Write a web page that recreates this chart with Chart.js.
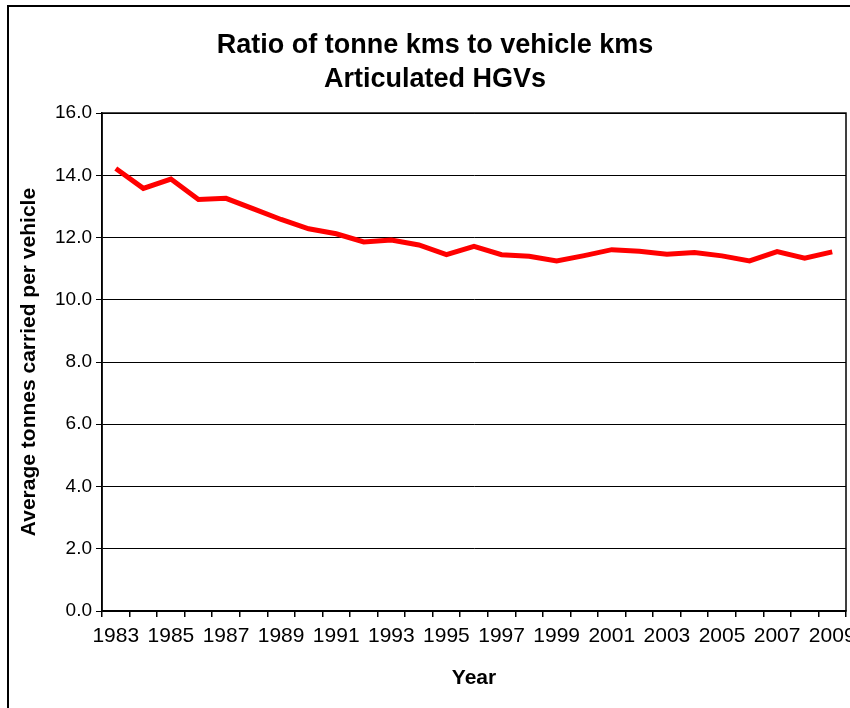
<!DOCTYPE html>
<html>
<head>
<meta charset="utf-8">
<script src="https://cdn.jsdelivr.net/npm/chart.js@4"></script>
<style>
body { margin: 0; background: #fff; }
canvas { display: block; }
</style>
</head>
<body>
<canvas id="hgv" width="850" height="708"></canvas>
<script>
var years = ['1983','1984','1985','1986','1987','1988','1989','1990','1991','1992','1993','1994','1995','1996',
             '1997','1998','1999','2000','2001','2002','2003','2004','2005','2006','2007','2008','2009'];
var tonnesPerVehicle = [14.22, 13.58, 13.88, 13.22, 13.26, 12.92, 12.58, 12.28, 12.12, 11.86, 11.92, 11.76, 11.45, 11.72,
                        11.45, 11.40, 11.25, 11.42, 11.61, 11.56, 11.46, 11.52, 11.41, 11.25, 11.55, 11.34, 11.54];
var titleLines = ['Ratio of tonne kms to vehicle kms', 'Articulated HGVs'];
var yTitle = 'Average tonnes carried per vehicle';
var xTitle = 'Year';

var canvas = document.getElementById('hgv');
var ctx = canvas.getContext('2d');

// outer frame + box round the plot
var frames = {
    id: 'frames',
    beforeDraw: function(chart){
        var c = chart.ctx;
        c.save();
        c.fillStyle = '#fff';
        c.fillRect(0, 0, chart.width, chart.height);
        c.strokeStyle = '#000';
        c.lineWidth = 2;
        c.strokeRect(8, 6, 900, 800);
        c.restore();
    },
    afterDatasetsDraw: function(chart){
        var a = chart.chartArea;
        var c = chart.ctx;
        c.save();
        c.strokeStyle = '#000';
        c.lineWidth = 1.5;
        c.strokeRect(a.left, a.top, a.right - a.left, a.bottom - a.top);
        c.restore();
    }
};

var hgvChart = new Chart(ctx, {
    type: 'line',
    data: {
        labels: years,
        datasets: [{
            data: tonnesPerVehicle,
            borderColor: '#ff0000',
            borderWidth: 5,
            pointRadius: 0,
            tension: 0,
            fill: false
        }]
    },
    options: {
        responsive: false,
        animation: false,
        devicePixelRatio: 1,
        // left padding pushes the title centre right, y axis box is narrowed to match
        layout: { padding: { left: 24, right: 4, top: 0, bottom: 0 } },
        plugins: {
            legend: { display: false },
            tooltip: { enabled: false },
            title: {
                display: true,
                text: titleLines,
                color: '#000',
                font: { family: 'Liberation Sans', size: 27, weight: 'bold', lineHeight: 1.26 },
                padding: { top: 29, bottom: 16 }
            }
        },
        scales: {
            x: {
                offset: true,
                grid: { offset: true, drawOnChartArea: false, drawTicks: true, tickLength: 6, color: '#000', lineWidth: 1.5 },
                border: { display: true, color: '#000', width: 1.5 },
                ticks: {
                    autoSkip: false,
                    maxRotation: 0,
                    color: '#000',
                    padding: 7,
                    font: { family: 'Liberation Sans', size: 21 },
                    callback: function(v, i){ return i % 2 === 0 ? years[i] : ''; }
                },
                title: {
                    display: true,
                    text: xTitle,
                    color: '#000',
                    font: { family: 'Liberation Sans', size: 21, weight: 'bold' },
                    padding: { top: 0, bottom: 17 }
                },
                afterFit: function(s){
                    s.height = 97;
                    s.paddingLeft = 0;
                    s.paddingRight = 0;
                }
            },
            y: {
                min: 0,
                max: 16,
                grid: { color: '#000', lineWidth: 1, drawTicks: true, tickLength: 6 },
                border: { display: true, color: '#000', width: 1.5 },
                ticks: {
                    stepSize: 2,
                    color: '#000',
                    padding: 4,
                    font: { family: 'Liberation Sans', size: 19 },
                    callback: function(v){ return v.toFixed(1); }
                },
                title: {
                    display: true,
                    text: yTitle,
                    color: '#000',
                    font: { family: 'Liberation Sans', size: 21, weight: 'bold' },
                    padding: { top: -7, bottom: 0 }
                },
                afterFit: function(s){
                    s.width = 78;
                    s.paddingTop = 0;
                    s.paddingBottom = 0;
                }
            }
        }
    },
    plugins: [frames]
});
</script>
</body>
</html>
